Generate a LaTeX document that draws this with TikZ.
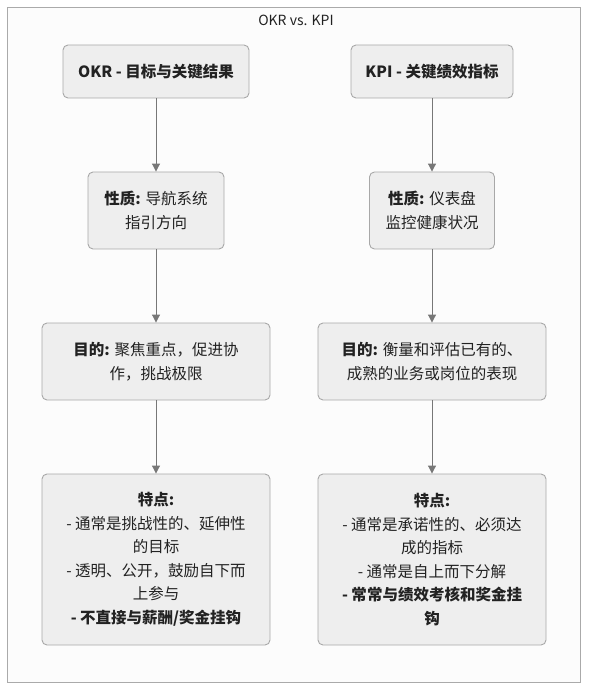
\documentclass[tikz,border=0pt]{standalone}
\usepackage{fontspec}
\setmainfont{Noto Sans CJK SC}
\usetikzlibrary{arrows.meta}
\definecolor{boxfill}{HTML}{EEEEEE}
\definecolor{boxline}{HTML}{A8A8A8}
\definecolor{framefill}{HTML}{FCFCFC}
\definecolor{frameline}{HTML}{AAAAAA}
\definecolor{arrowcol}{HTML}{777777}
\definecolor{txt}{HTML}{222222}
\tikzset{
  card/.style={draw=boxline, fill=boxfill, line width=0.9pt, rounded corners=5pt,
    align=center, inner sep=0pt, text=txt, font=\fontsize{15.5}{23.5}\selectfont},
  link/.style={draw=arrowcol, line width=1pt, -{Triangle[length=8pt,width=8pt]}},
}
\begin{document}
\begin{tikzpicture}[x=1pt,y=-1pt]
\useasboundingbox (0,0) rectangle (596,700);
\node[draw=frameline, fill=framefill, line width=1pt, minimum width=572.5pt, minimum height=674.5pt, inner sep=0pt] (frame) at (293.75,344.75) {};
\node[text=txt, font=\fontsize{14}{16}\selectfont] (title) at (296,20) {OKR vs. KPI};

\node[card, minimum width=186pt, minimum height=53pt] (l1) at (156,71.5) {\textbf{OKR - 目标与关键结果}};
\node[card, minimum width=162pt, minimum height=53pt] (r1) at (432,71.5) {\textbf{KPI - 关键绩效指标}};

\node[card, minimum width=136pt, minimum height=77pt] (l2) at (156,210.5) {\textbf{性质:} 导航系统\\指引方向};
\node[card, minimum width=125pt, minimum height=77pt] (r2) at (432,210.5) {\textbf{性质:} 仪表盘\\监控健康状况};

\node[card, minimum width=228pt, minimum height=77pt] (l3) at (156,361.5) {\textbf{目的:} 聚焦重点，促进协\\作，挑战极限};
\node[card, minimum width=228pt, minimum height=77pt] (r3) at (432,361.5) {\textbf{目的:} 衡量和评估已有的、\\成熟的业务或岗位的表现};

\node[card, minimum width=228pt, minimum height=171pt] (l4) at (156,559.5) {\textbf{特点:}\\- 通常是挑战性的、延伸性\\的目标\\- 透明、公开，鼓励自下而\\上参与\\\textbf{- 不直接与薪酬/奖金挂钩}};
\node[card, minimum width=228pt, minimum height=171pt] (r4) at (432,559.5) {\textbf{特点:}\\- 通常是承诺性的、必须达\\成的指标\\- 通常是自上而下分解\\\textbf{- 常常与绩效考核和奖金挂}\\\textbf{钩}};

\draw[link] (l1) -- (l2);
\draw[link] (l2) -- (l3);
\draw[link] (l3) -- (l4);
\draw[link] (r1) -- (r2);
\draw[link] (r2) -- (r3);
\draw[link] (r3) -- (r4);
\end{tikzpicture}
\end{document}
